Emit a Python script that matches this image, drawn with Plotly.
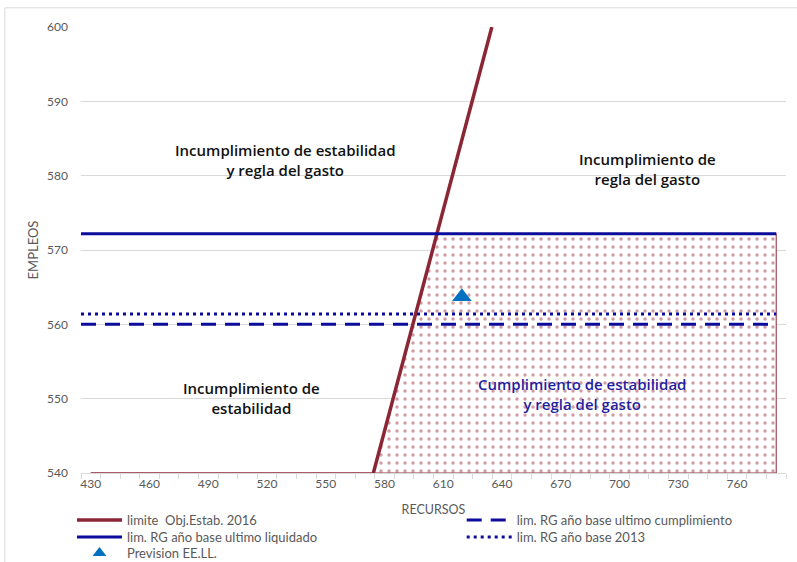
import numpy as np
import plotly.graph_objects as go

# ---- data ----
diag_x = [574.3, 634.8]          # limite Obj.Estab. 2016 (RECURSOS)
diag_y = [540.0, 600.0]          # (EMPLEOS)
x_span = [425, 780]              # extent of the horizontal limits
rg_liquidado = 572.2             # lim. RG año base ultimo liquidado
rg_cumplimiento = 560.0          # lim. RG año base ultimo cumplimiento
rg_2013 = 561.4                  # lim. RG año base 2013
prev_x = [619.5]                 # Prevision EE.LL.
prev_y = [563.7]
area_start = 430                 # start of the shaded area series
x_tickvals = list(range(430, 761, 30))
y_tickvals = list(range(540, 601, 10))

MAROON = "#8B2635"
NAVY = "#0C0C9C"
GRAY = "#595959"
FONT = "Lato"
AFONT = "Open Sans"

# polygon of the "cumplimiento" region derived from the limits
slope = (diag_y[1] - diag_y[0]) / (diag_x[1] - diag_x[0])
x_at_top = diag_x[0] + (rg_liquidado - diag_y[0]) / slope
poly_x = [area_start, diag_x[0], x_at_top, x_span[1], x_span[1], area_start]
poly_y = [diag_y[0], diag_y[0], rg_liquidado, rg_liquidado, diag_y[0], diag_y[0]]

fig = go.Figure()

fig.add_trace(go.Scatter(
    x=poly_x, y=poly_y, mode="lines", fill="toself",
    fillcolor="white",
    fillpattern=dict(shape=".", fgcolor="#A33A4A", bgcolor="white", size=8, solidity=0.15),
    line=dict(color=MAROON, width=1), showlegend=False, hoverinfo="skip"))

fig.add_trace(go.Scatter(
    x=diag_x, y=diag_y, mode="lines", name="limite  Obj.Estab. 2016",
    line=dict(color=MAROON, width=3.5), legend="legend"))
fig.add_trace(go.Scatter(
    x=x_span, y=[rg_cumplimiento] * 2, mode="lines",
    name="lim. RG año base ultimo cumplimiento",
    line=dict(color=NAVY, width=3, dash="15px,9px"), legend="legend2"))
fig.add_trace(go.Scatter(
    x=x_span, y=[rg_liquidado] * 2, mode="lines",
    name="lim. RG año base ultimo liquidado",
    line=dict(color=NAVY, width=3), legend="legend3"))
fig.add_trace(go.Scatter(
    x=x_span, y=[rg_2013] * 2, mode="lines",
    name="lim. RG año base 2013",
    line=dict(color=NAVY, width=3, dash="3px,4px"), legend="legend4"))
fig.add_trace(go.Scatter(
    x=prev_x, y=prev_y, mode="markers", name="Prevision EE.LL.",
    marker=dict(symbol="triangle-up", size=17, color="#0070C0"), legend="legend5"))

ann_font = dict(family=AFONT, size=15, color="#111111", weight=600)
annotations = [
    dict(x=529.2, y=582.1, text="Incumplimiento de estabilidad<br>y regla del gasto", font=ann_font),
    dict(x=714.1, y=580.9, text="Incumplimiento de<br>regla del gasto", font=ann_font),
    dict(x=512.3, y=550.1, text="Incumplimiento de<br>estabilidad", font=ann_font),
    dict(x=680.9, y=550.6, text="Cumplimiento de estabilidad<br>y regla del gasto",
         font=dict(family=AFONT, size=15, color="#1F1FA0", weight=600)),
]
for a in annotations:
    a.update(xref="x", yref="y", showarrow=False, align="center")

leg_common = dict(orientation="v", xanchor="left", yanchor="top", itemwidth=45,
                  font=dict(family=FONT, size=13, color=GRAY), bgcolor="rgba(0,0,0,0)",
                  tracegroupgap=0)
LX, RX = -0.0128, 0.540
R1, R2, R3 = -0.0717, -0.1099, -0.1457

fig.update_layout(
    width=797, height=562,
    margin=dict(l=81, r=11, t=27, b=89, autoexpand=False),
    paper_bgcolor="white", plot_bgcolor="white",
    font=dict(family=FONT, size=12, color=GRAY),
    annotations=annotations,
    showlegend=True,
    legend=dict(x=LX, y=R1, **leg_common),
    legend2=dict(x=RX, y=R1, **leg_common),
    legend3=dict(x=LX, y=R2, **leg_common),
    legend4=dict(x=RX, y=R2, **leg_common),
    legend5=dict(x=LX, y=R3, itemsizing="constant", **leg_common),
    shapes=[dict(type="rect", xref="paper", yref="paper",
                 x0=-0.108, x1=1.03, y0=-0.25, y1=1.043,
                 line=dict(color="#D9D9D9", width=1), layer="below")],
)

fig.update_xaxes(
    range=[425, 785], tickvals=x_tickvals, ticks="", showgrid=False,
    showline=True, linecolor="#D9D9D9", linewidth=1,
    tickfont=dict(family=FONT, size=12, color=GRAY),
    minor=dict(tick0=425, dtick=10, ticks="outside", ticklen=5, tickcolor="#D9D9D9", showgrid=False),
    title=dict(text="RECURSOS", font=dict(family=FONT, size=12.5, color=GRAY), standoff=14),
    zeroline=False)
fig.update_yaxes(
    range=[540, 600], tickvals=y_tickvals, showgrid=True, gridcolor="#D9D9D9", gridwidth=1,
    showline=False, ticks="", ticklabelstandoff=12,
    tickfont=dict(family=FONT, size=12, color=GRAY),
    title=dict(text="EMPLEOS", font=dict(family=FONT, size=13, color=GRAY), standoff=5),
    zeroline=False)

fig.write_html("out.html", config={"displayModeBar": False},
               post_script="document.body.style.margin='0px';")
